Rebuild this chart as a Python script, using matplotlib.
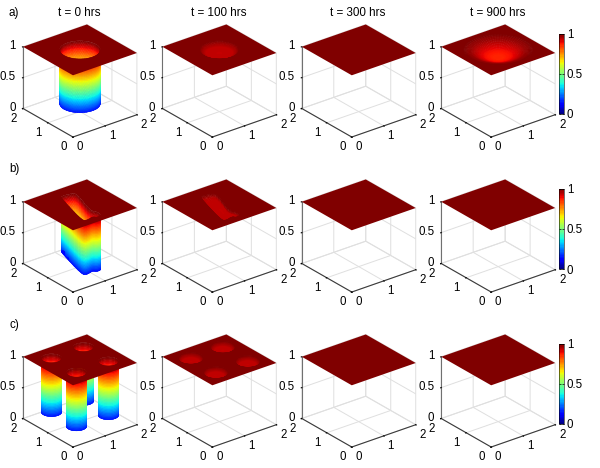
import numpy as np
import matplotlib
matplotlib.use('Agg')
import matplotlib.pyplot as plt
from matplotlib.ticker import NullFormatter
from mpl_toolkits.mplot3d import proj3d
from mpl_toolkits.mplot3d.art3d import Poly3DCollection

plt.rcParams['font.family'] = ['Liberation Sans', 'DejaVu Sans']
plt.rcParams['font.size'] = 8.4
plt.rcParams['grid.color'] = '#dfdfdf'
plt.rcParams['grid.linewidth'] = 0.7

W, H = 600, 468

# labels
times = ['t = 0 hrs', 't = 100 hrs', 't = 300 hrs', 't = 900 hrs']
row_labels = ['a)', 'b)', 'c)']
ticks_xy = [0, 1, 2]
ticks_z = [0, 0.5, 1]
ticks_z_labels = ['0', '0.5', '1']

# well centres and radii read from the top planes
single_centre = [(1.0, 1.0)]
four_centres = [(1.5, 1.5), (0.5, 1.5), (1.5, 0.5), (0.5, 0.5)]
single_radius = 0.5
single_radius_late = 0.85
four_radius = 0.25
four_radius_late = 0.32

# outline of the slot in row b, read from the plane
slot_x = [0.52, 0.86, 0.92, 1.22, 1.32, 1.00, 1.10, 1.07, 0.90, 0.85, 0.60]
slot_y = [0.32, 1.55, 1.66, 1.63, 1.52, 0.60, 0.44, 0.22, 0.20, 0.30, 0.22]

# dents: scale from rim (1) to centre (0), and height there
dent100_s = [1.0, 0.85, 0.7, 0.0]
dent100_z = [1.0, 0.965, 0.945, 0.94]
slot100_s = [1.0, 0.92, 0.8, 0.0]
slot100_z = [1.0, 0.955, 0.945, 0.94]
dent900_s = [1.0, 0.8, 0.6, 0.4, 0.2, 0.0]
dent900_z = [1.0, 0.975, 0.935, 0.895, 0.875, 0.87]
well_floor = 0.13
slot_floor = 0.12


def px_rect(left, top, w, h):
    return [left / W, 1 - (top + h) / H, w / W, h / H]


def circle(c, r):
    t = np.linspace(0, 2 * np.pi, 73)
    return c[0] + r * np.cos(t), c[1] + r * np.sin(t)


def smooth_outline(x, y, rounds=3):
    # corner cutting so the slot does not look like a polygon
    x, y = np.array(x, float), np.array(y, float)
    for _ in range(rounds):
        x2, y2 = np.roll(x, -1), np.roll(y, -1)
        x = np.column_stack([0.75 * x + 0.25 * x2, 0.25 * x + 0.75 * x2]).ravel()
        y = np.column_stack([0.75 * y + 0.25 * y2, 0.25 * y + 0.75 * y2]).ravel()
    return np.r_[x, x[0]], np.r_[y, y[0]]


def wall_profile(zmin):
    z = np.linspace(1, zmin, 40)
    return np.r_[np.ones(40), 0.0], np.r_[z, zmin]


def fine_dent(s, z):
    # finer mesh rows for the same profile, first row tucked under the plane
    sf = np.linspace(1, 0, 40)
    return np.r_[1.03, sf], np.r_[1.0, np.interp(sf, s[::-1], z[::-1])]


def draw_well(ax, ox, oy, s, z, order):
    cx, cy = ox[:-1].mean(), oy[:-1].mean()
    s = np.asarray(s)[:, None]
    X = cx + s * (ox - cx)
    Y = cy + s * (oy - cy)
    Z = np.asarray(z)[:, None] * np.ones_like(X)
    ax.plot_surface(X, Y, Z, facecolors=plt.cm.jet(Z), rstride=1, cstride=1,
                    shade=False, linewidth=0.3, zorder=order)


def draw_plane(ax, outlines):
    # plane with holes, as one polygon joined to its edge by zero width bridges
    left, right = [], []
    for ox, oy in outlines:
        area = np.sum(ox[:-1] * oy[1:] - ox[1:] * oy[:-1])
        if area < 0:
            ox, oy = ox[::-1], oy[::-1]
        if ox.mean() < 1:
            i = np.argmin(ox[:-1])
            left.append((oy[i], 0, i, ox, oy))
        else:
            i = np.argmax(ox[:-1])
            right.append((oy[i], 2, i, ox, oy))
    left.sort(key=lambda h: h[0])
    right.sort(key=lambda h: -h[0])

    def add(verts, holes):
        for y0, edge, i, ox, oy in holes:
            hx = np.r_[ox[i:-1], ox[:i + 1]]
            hy = np.r_[oy[i:-1], oy[:i + 1]]
            verts.append((edge, y0))
            verts.extend(zip(hx, hy))
            verts.append((edge, y0))

    verts = [(0, 0)]
    add(verts, left)
    verts += [(0, 2), (2, 2)]
    add(verts, right)
    verts.append((2, 0))
    poly = Poly3DCollection([[(vx, vy, 1.0) for vx, vy in verts]],
                            facecolors=plt.cm.jet(1.0), edgecolors='none',
                            zorder=50)
    ax.add_collection3d(poly)


def tick_text(ax, x, y, z, s, **kw):
    # projected by hand so the label is a plain 2d text at its real place
    px, py, _ = proj3d.proj_transform(x, y, z, ax.get_proj())
    ax.text2D(px, py, s, transform=ax.transData, fontsize=8.3, va='center', **kw)


def make_axes(fig, row, col):
    left = 13.2 + 139.4 * col
    top = 17.5 + 155 * row
    ax = fig.add_axes(px_rect(left, top, 130, 130), projection='3d',
                      computed_zorder=False)
    ax.set_proj_type('ortho')
    ax.view_init(elev=26.5, azim=-128)
    ax.set_box_aspect((1, 1, 0.85))
    ax.patch.set_alpha(0)
    ax.set_xlim(0, 2, view_margin=0)
    ax.set_ylim(0, 2, view_margin=0)
    ax.set_zlim(0, 1, view_margin=0)
    ax.set_xticks(ticks_xy)
    ax.set_yticks(ticks_xy)
    ax.set_zticks(ticks_z)
    for a in (ax.xaxis, ax.yaxis, ax.zaxis):
        a.set_major_formatter(NullFormatter())
        a.set_pane_color((1, 1, 1, 0))
        a.pane.set_edgecolor('#d8d8d8')
        a.line.set_color('#3a3a3a')
        a.line.set_linewidth(0.8)
        a._axinfo['tick']['inward_factor'] = 0.1
        a._axinfo['tick']['outward_factor'] = 0.0
        a._axinfo['tick']['color'] = '#3a3a3a'
        a.set_tick_params(width=0.6)
    ax.zaxis.line.set_color('#707070')

    for v in ticks_xy:
        tick_text(ax, v - 0.2, -0.537, 0, str(v), ha='center')
        tick_text(ax, -0.524, v - 0.293, 0, str(v), ha='center')
    for v, lab in zip(ticks_z, ticks_z_labels):
        tick_text(ax, -0.137, 2.104, v + 0.015, lab, ha='right')
    return ax


fig = plt.figure(figsize=(W / 100, H / 100), dpi=100)

slot_outline = smooth_outline(slot_x, slot_y, rounds=2)
for row in range(3):
    for col in range(4):
        ax = make_axes(fig, row, col)
        outlines = []
        if col in (0, 1):
            s, z = wall_profile(well_floor) if col == 0 else fine_dent(dent100_s, dent100_z)
            if row == 0:
                outlines = [circle(c, single_radius) for c in single_centre]
            elif row == 1:
                outlines = [slot_outline]
                if col == 0:
                    s, z = wall_profile(slot_floor)
                else:
                    s, z = fine_dent(slot100_s, slot100_z)
            else:
                r = four_radius if col == 0 else four_radius_late
                outlines = [circle(c, r) for c in four_centres]
        elif col == 3 and row == 0:
            s, z = fine_dent(dent900_s, dent900_z)
            outlines = [circle(c, single_radius_late) for c in single_centre]
        for k, (ox, oy) in enumerate(outlines):
            draw_well(ax, ox, oy, s, z, 10 + k)
        draw_plane(ax, outlines)

    # colour bar and row letter
    cax = fig.add_axes(px_rect(558.7, 34 + 155 * row, 5.5, 80))
    sm = plt.cm.ScalarMappable(norm=plt.Normalize(0, 1), cmap=plt.get_cmap('jet', 64))
    cb = fig.colorbar(sm, cax=cax, ticks=ticks_z)
    cb.ax.set_yticklabels(ticks_z_labels)
    cb.ax.tick_params(direction='in', length=1.5, width=0.5, pad=2, labelsize=8.3, left=True)
    cb.outline.set_linewidth(0.4)
    fig.text(14 / W, 1 - (13 + 156 * row) / H, row_labels[row], ha='center', va='center')

for col, t in enumerate(times):
    fig.text((79 + 139.4 * col) / W, 1 - 13 / H, t, ha='center', va='center')

fig.savefig('out.png', dpi=100)
